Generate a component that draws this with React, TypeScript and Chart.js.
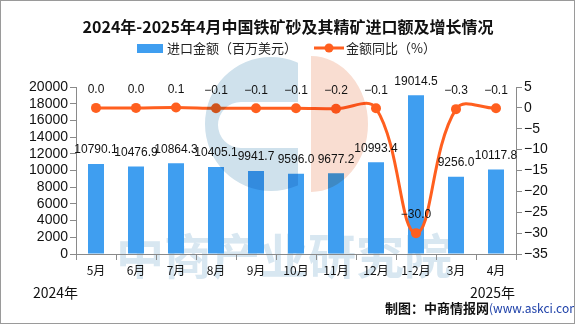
import React, { useEffect, useRef } from "react";
import { Chart, registerables } from "chart.js";

Chart.register(...registerables);

const categories = ["5月", "6月", "7月", "8月", "9月", "10月", "11月", "12月", "1-2月", "3月", "4月"];
const importValues = [10790.1, 10476.9, 10864.3, 10405.1, 9941.7, 9596.0, 9677.2, 10993.4, 19014.5, 9256.0, 10117.8];
const yoyValues = [0.0, 0.0, 0.1, -0.1, -0.1, -0.1, -0.2, -0.1, -30.0, -0.3, -0.1];
const leftTicks = { min: 0, max: 20000, step: 2000 };
const rightTicks = { min: -35, max: 5, step: 5 };

const TITLE = "2024年-2025年4月中国铁矿砂及其精矿进口额及增长情况";
const BAR_LABEL = "进口金额（百万美元）";
const LINE_LABEL = "金额同比（%）";
const YEAR_START = "2024年";
const YEAR_END = "2025年";
const SOURCE_A = "制图：中商情报网";
const SOURCE_B = "(www.askci.com)";
const WATERMARK = "中商产业研究院";

const BAR_COLOR = "#3f9ef0";
const LINE_COLOR = "#ff5f1f";
const CJK = '"Noto Sans CJK SC", "Noto Sans", sans-serif';
const SANS = '"Liberation Sans", Arial, sans-serif';

const fmtMinus = (s: string) => s.replace(/^-/, "\u2212");

const decorPlugin = {
  id: "decor",
  beforeDraw(chart: any) {
    const ctx = chart.ctx;
    ctx.save();
    ctx.font = `bold 48px ${CJK}`;
    ctx.fillStyle = "#d8e7f1";
    ctx.textAlign = "left";
    ctx.textBaseline = "middle";
    ctx.fillText(WATERMARK, 116, 256);
    ctx.restore();
  },
  afterDatasetsDraw(chart: any) {
    const ctx = chart.ctx;
    // logo watermark (multiplied over content)
    ctx.save();
    ctx.globalCompositeOperation = "multiply";
    // blue C
    ctx.save();
    ctx.beginPath();
    ctx.rect(150, 56, 148, 170);
    ctx.clip();
    ctx.beginPath();
    ctx.ellipse(271, 124, 66, 67, 0, 0, Math.PI * 2);
    ctx.closePath();
    ctx.moveTo(320, 102);
    ctx.lineTo(241, 102);
    ctx.arc(241, 125, 23, -Math.PI / 2, Math.PI / 2, true);
    ctx.lineTo(320, 148);
    ctx.closePath();
    ctx.fillStyle = "#cfe1ec";
    ctx.fill("evenodd");
    ctx.restore();
    // peach half
    ctx.save();
    ctx.beginPath();
    ctx.rect(311, 56, 120, 170);
    ctx.clip();
    ctx.beginPath();
    ctx.ellipse(311, 124, 57, 68, 0, 0, Math.PI * 2);
    ctx.fillStyle = "#f9ddd1";
    ctx.fill();
    ctx.restore();
    ctx.restore();

    // data labels
    ctx.save();
    ctx.font = `12px ${SANS}`;
    ctx.fillStyle = "#111";
    ctx.textAlign = "center";
    ctx.textBaseline = "middle";
    const barMeta = chart.getDatasetMeta(0);
    barMeta.data.forEach((el: any, i: number) => {
      ctx.fillText(importValues[i].toFixed(1), el.x, el.y - 14);
    });
    const lineMeta = chart.getDatasetMeta(1);
    lineMeta.data.forEach((el: any, i: number) => {
      const t = fmtMinus(yoyValues[i].toFixed(1));
      ctx.fillText(t, el.x, el.y - 18);
    });
    ctx.restore();
  },
  afterDraw(chart: any) {
    const ctx = chart.ctx;
    const W = chart.width;
    ctx.save();
    // title
    ctx.font = `bold 16px ${CJK}`;
    ctx.fillStyle = "#111";
    ctx.textAlign = "center";
    ctx.textBaseline = "middle";
    ctx.fillText(TITLE, 288, 27);
    // legend
    ctx.fillStyle = BAR_COLOR;
    ctx.fillRect(137, 44, 26, 9);
    ctx.font = `13px ${CJK}`;
    ctx.fillStyle = "#222";
    ctx.textAlign = "left";
    ctx.fillText(BAR_LABEL, 167, 48);
    ctx.strokeStyle = LINE_COLOR;
    ctx.lineWidth = 3;
    ctx.beginPath();
    ctx.moveTo(314, 48);
    ctx.lineTo(344, 48);
    ctx.stroke();
    ctx.fillStyle = LINE_COLOR;
    ctx.beginPath();
    ctx.arc(329, 48, 4.5, 0, Math.PI * 2);
    ctx.fill();
    ctx.fillStyle = "#222";
    ctx.fillText(LINE_LABEL, 346, 48);
    // years
    ctx.font = `14px ${CJK}`;
    ctx.fillStyle = "#111";
    ctx.fillText(YEAR_START, 33, 293);
    ctx.fillText(YEAR_END, 470, 293);
    // source
    ctx.font = `bold 13px ${CJK}`;
    ctx.fillText(SOURCE_A, 385, 308);
    const wA = ctx.measureText(SOURCE_A).width;
    ctx.font = `12px ${CJK}`;
    ctx.fillStyle = "#1c3fa8";
    ctx.fillText(SOURCE_B, 385 + wA, 308);
    // border
    ctx.strokeStyle = "#9a9a9a";
    ctx.lineWidth = 1;
    ctx.strokeRect(0.5, 0.5, W - 1, chart.height - 1);
    ctx.restore();
  },
};

export default function App() {
  const ref = useRef<HTMLCanvasElement | null>(null);
  useEffect(() => {
    if (!ref.current) return;
    const chart = new Chart(ref.current, {
      type: "bar",
      data: {
        labels: categories,
        datasets: [
          {
            type: "bar",
            label: BAR_LABEL,
            data: importValues,
            backgroundColor: BAR_COLOR,
            yAxisID: "y",
            barPercentage: 0.4,
            categoryPercentage: 1,
            order: 2,
          },
          {
            type: "line",
            label: LINE_LABEL,
            data: yoyValues,
            borderColor: LINE_COLOR,
            backgroundColor: LINE_COLOR,
            borderWidth: 3,
            pointRadius: 5,
            pointBackgroundColor: LINE_COLOR,
            pointBorderWidth: 0,
            tension: 0.4,
            yAxisID: "y1",
            order: 1,
          },
        ],
      },
      options: {
        responsive: false,
        animation: false,
        devicePixelRatio: 1,
        layout: { padding: { top: 87, left: 0, right: 0, bottom: 0 } },
        plugins: { legend: { display: false }, title: { display: false }, tooltip: { enabled: false } },
        scales: {
          x: {
            offset: true,
            grid: { offset: true, drawOnChartArea: false, drawTicks: true, tickLength: 6, color: "#8a8a8a" },
            border: { color: "#8a8a8a" },
            ticks: { font: { family: CJK, size: 12 }, color: "#111", padding: 3, maxRotation: 0, autoSkip: false },
            afterFit: (s: any) => { s.height = 70; },
          },
          y: {
            position: "left",
            min: leftTicks.min,
            max: leftTicks.max,
            grid: { drawOnChartArea: false, drawTicks: true, tickLength: 6, color: "#8a8a8a" },
            border: { color: "#8a8a8a" },
            ticks: {
              stepSize: leftTicks.step,
              autoSkip: false,
              font: { family: SANS, size: 14 },
              color: "#111",
              padding: 2,
              callback: (v: any) => String(v),
            },
            afterFit: (s: any) => { s.width = 76; },
          },
          y1: {
            position: "right",
            min: rightTicks.min,
            max: rightTicks.max,
            grid: { drawOnChartArea: false, drawTicks: true, tickLength: 6, color: "#8a8a8a" },
            border: { color: "#8a8a8a" },
            ticks: {
              stepSize: rightTicks.step,
              autoSkip: false,
              font: { family: SANS, size: 14 },
              color: "#111",
              padding: 2,
              callback: (v: any) => fmtMinus(String(v)),
            },
            afterFit: (s: any) => { s.width = 59; },
          },
        },
      },
      plugins: [decorPlugin],
    });
    return () => chart.destroy();
  }, []);
  return (
    <div style={{ position: "fixed", left: 0, top: 0, width: 575, height: 324, background: "#fff" }}>
      <canvas ref={ref} width={575} height={324} style={{ display: "block", width: 575, height: 324 }} />
    </div>
  );
}
